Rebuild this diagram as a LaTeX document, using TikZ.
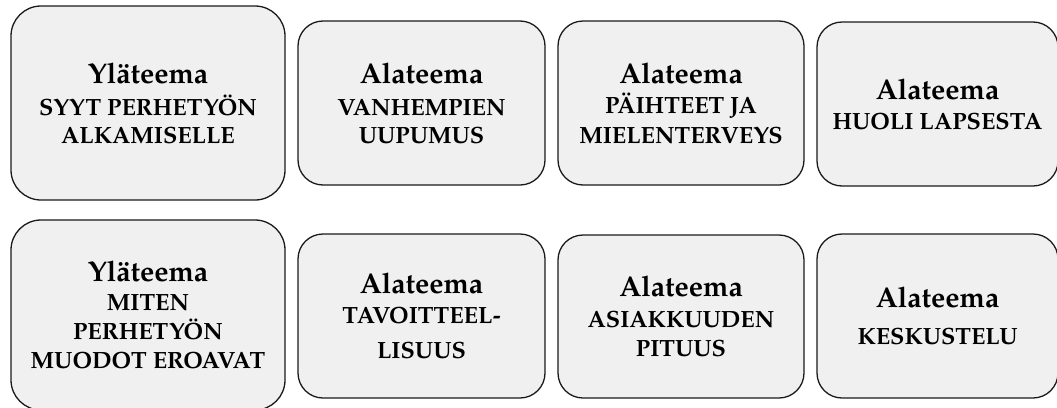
\documentclass[tikz,border=0pt]{standalone}
\usepackage{fontspec}
\setmainfont{TeX Gyre Pagella}
\definecolor{boxgray}{HTML}{F0F0F0}
\definecolor{edge}{HTML}{1A1A1A}
\newcommand{\ttl}[1]{{\fontsize{28.5}{28}\selectfont #1}}
\begin{document}
\begin{tikzpicture}[x=1pt,y=-1pt,
  boxbase/.style={draw=edge, line width=1.3pt, fill=boxgray, align=center, inner sep=0pt,
    font=\fontsize{23.5}{28}\selectfont\bfseries},
  bigbox/.style={boxbase, rounded corners=30pt, minimum width=274pt, minimum height=194pt},
  smallbox/.style={boxbase, rounded corners=25pt, minimum width=247pt, minimum height=164pt}]
\useasboundingbox (0,0) rectangle (1057,407);
\node[bigbox] (b1) at (148,103) {\ttl{Yläteema}\\[4pt]SYYT PERHETYÖN\\ALKAMISELLE};
\node[smallbox] (b2) at (421.5,103) {\ttl{Alateema}\\[4pt]VANHEMPIEN\\UUPUMUS};
\node[smallbox, minimum width=246pt] (b3) at (681,103) {\ttl{Alateema}\\[2pt]PÄIHTEET JA\\[2pt]MIELENTERVEYS};
\node[smallbox, minimum width=241pt] (b4) at (937.5,104) {\ttl{Alateema}\\[2pt]HUOLI LAPSESTA};
\node[bigbox, minimum height=190pt] (b5) at (148,315) {\ttl{Yläteema}\\[1pt]MITEN\\[1pt]PERHETYÖN\\[1pt]MUODOT EROAVAT};
\node[smallbox] (b6) at (421.5,316) {\ttl{Alateema}\\[2pt]TAVOITTEEL-\\[7pt]LISUUS};
\node[smallbox, minimum width=246pt, minimum height=163pt] (b7) at (681,316.5) {\ttl{Alateema}\\[3pt]ASIAKKUUDEN\\[1pt]PITUUS};
\node[smallbox, minimum width=241pt] (b8) at (937.5,316) {\ttl{Alateema}\\[9pt]KESKUSTELU};
\end{tikzpicture}
\end{document}
